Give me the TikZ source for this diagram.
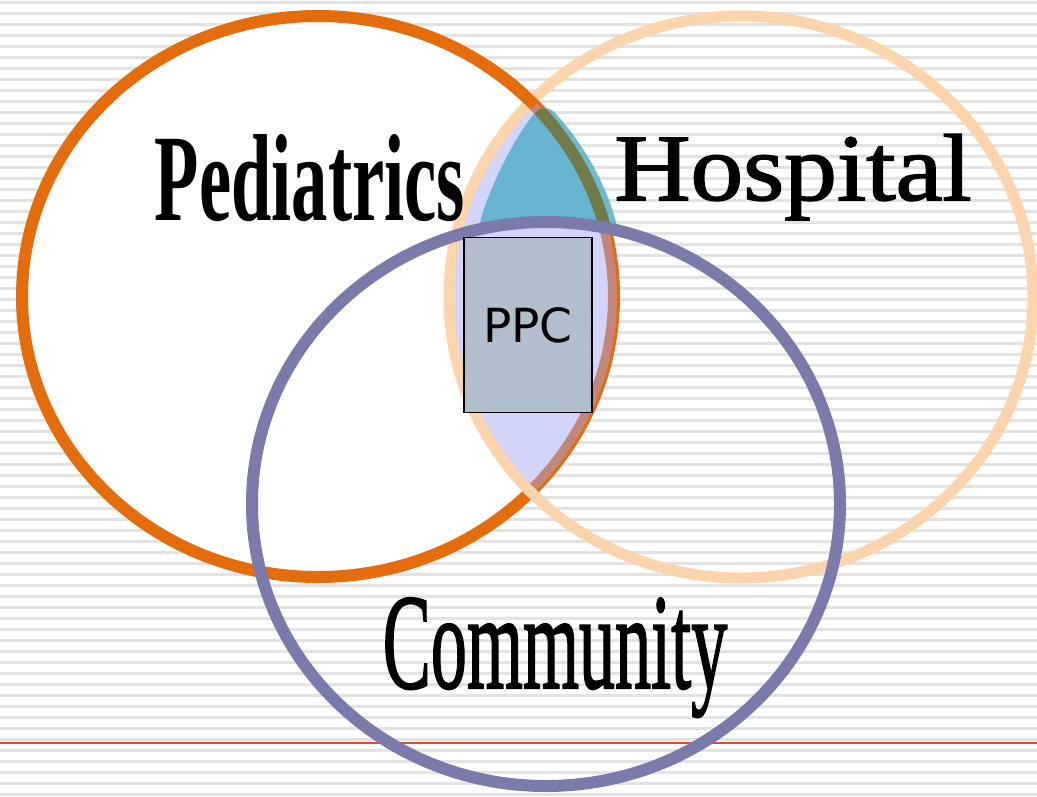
\documentclass[tikz,border=0pt]{standalone}
\usepackage{fontspec}
\setmainfont{Liberation Serif}
\newfontfamily\ppcfont{DejaVu Sans}
\newfontfamily\hospfont{Liberation Serif}[FakeBold=1.6]
\newfontfamily\commfont{Liberation Serif}[FakeBold=1.6]
\usepackage{tikz}
\usetikzlibrary{positioning}

\definecolor{pedorange}{RGB}{228,108,10}
\definecolor{hosppeach}{RGB}{253,212,172}
\definecolor{commblue}{RGB}{122,123,170}
\definecolor{lenslav}{RGB}{160,164,245}
\definecolor{tealcol}{RGB}{75,172,198}
\definecolor{olivecol}{RGB}{115,124,72}
\definecolor{ppcgrey}{RGB}{177,191,204}
\definecolor{stripegrey}{RGB}{227,227,227}
\definecolor{marginred}{RGB}{226,72,50}

\tikzset{
  pedring/.style={draw=pedorange,line width=12pt},
  hospring/.style={draw=hosppeach,line width=11pt},
  commring/.style={draw=commblue,line width=12pt},
  lensfill/.style={fill=lenslav,fill opacity=0.47},
  tealfill/.style={fill=tealcol,fill opacity=0.8},
  ppcbox/.style={draw=black,line width=1.3pt,fill=ppcgrey,minimum width=128pt,minimum height=175pt,inner sep=0pt,font=\ppcfont\fontsize{47}{47}\selectfont},
  biglabel/.style={inner sep=0pt,anchor=base}
}

\newcommand{\tealpath}{(480,229) -- (480,223) .. controls (486,195) and (515,135) .. (535,113) .. controls (540,107) and (550,106) .. (556,114) .. controls (580,140) and (605,180) .. (616,222) -- (616,230) .. controls (569,219.7) and (525,219.7) .. (480,229) -- cycle}

\begin{document}
\begin{tikzpicture}[x=1pt,y=1pt,yscale=-1,xscale=1]
\useasboundingbox (0,0) rectangle (1037,796);

%Lined paper background
\fill[white] (0,0) rectangle (1037,796);
\foreach \k in {0,...,72}
  \fill[stripegrey] (0,1.3+11*\k) rectangle (1037,3.7+11*\k);
\draw[marginred,line width=1.7pt] (0,743.2) -- (1037,743.2);

%Pediatrics circle
\draw[pedring,fill=white] (318,296.5) ellipse [x radius=296pt, y radius=280.5pt];
%Hospital circle
\draw[hospring] (741,297) ellipse [x radius=292pt, y radius=281pt];
%orange on top at the upper crossing
\begin{scope}
  \clip (480,60) rectangle (570,125);
  \draw[pedring] (318,296.5) ellipse [x radius=296pt, y radius=280.5pt];
\end{scope}

%Lens Pediatrics / Hospital
\begin{scope}
  \clip (318,296.5) ellipse [x radius=299pt, y radius=283.5pt];
  \fill[lensfill] (741,297) ellipse [x radius=286.5pt, y radius=275.5pt];
\end{scope}

%Teal part of the lens
\fill[tealfill] \tealpath;
\begin{scope}
  \clip \tealpath;
  \draw[line width=12pt,draw=olivecol] (318,296.5) ellipse [x radius=296pt, y radius=280.5pt];
\end{scope}

%Community circle
\draw[commring] (546,504) ellipse [x radius=294pt, y radius=282pt];

%PPC box
\node[ppcbox] (ppc) at (528,325) {PPC};

%Labels
\node[biglabel] (pediatrics) at (310,220) {\fontsize{124}{124}\selectfont\bfseries\scalebox{0.585}[1]{Pediatrics}};
\node[biglabel] (hospital) at (793,200) {\hospfont\fontsize{95}{95}\selectfont\scalebox{1.11}[1]{Hospital}};
\node[biglabel] (community) at (555,688) {\commfont\fontsize{136}{136}\selectfont\scalebox{0.53}[1]{Community}};

\end{tikzpicture}
\end{document}
